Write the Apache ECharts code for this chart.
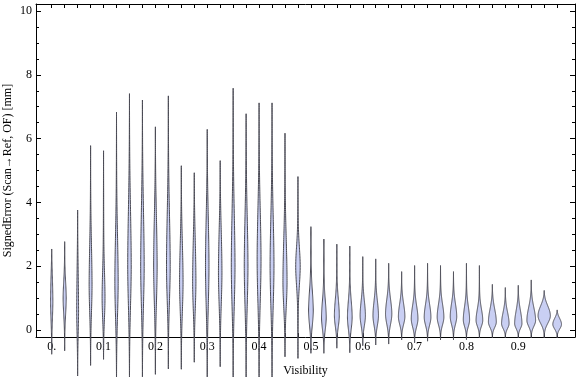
<!DOCTYPE html>
<html>
<head>
<meta charset="utf-8">
<script src="https://cdn.jsdelivr.net/npm/echarts@6/dist/echarts.min.js"></script>
<style>
  html, body { margin: 0; padding: 0; background: #fff; }
  #chart { width: 576px; height: 377px; }
</style>
</head>
<body>
<div id="chart"></div>
<script>
// one violin per visibility bin
const visibility = [0, 0.025, 0.05, 0.075, 0.1, 0.125, 0.15, 0.175, 0.2, 0.225,
  0.25, 0.275, 0.3, 0.325, 0.35, 0.375, 0.4, 0.425, 0.45, 0.475,
  0.5, 0.525, 0.55, 0.575, 0.6, 0.625, 0.65, 0.675, 0.7, 0.725,
  0.75, 0.775, 0.8, 0.825, 0.85, 0.875, 0.9, 0.925, 0.95, 0.975]
// largest / smallest signed error in each bin [mm]
const maxError = [2.54, 2.77, 3.76, 5.78, 5.62, 6.83, 7.41, 7.21, 6.37, 7.34,
  5.15, 4.93, 6.29, 5.31, 7.58, 6.78, 7.12, 7.12, 6.17, 4.81,
  3.24, 2.85, 2.69, 2.63, 2.30, 2.23, 2.09, 1.83, 2.02, 2.09,
  2.02, 1.83, 2.09, 2.02, 1.43, 1.33, 1.40, 1.57, 1.24, 0.63]
const minError = [-0.76, -0.65, -1.44, -1.11, -0.92, -1.65, -1.65, -1.6, -1.39, -1.22,
  -1.23, -1.01, -1.65, -1.15, -1.65, -1.65, -1.65, -1.65, -0.84, -0.89,
  -0.73, -0.73, -0.57, -0.71, -0.49, -0.47, -0.44, -0.31, -0.40, -0.35,
  -0.31, -0.31, -0.30, -0.25, -0.25, -0.25, -0.25, -0.25, -0.25, -0.25]
// where the density peaks [mm]
const peakError = [0.9, 1.0, 0.6, 1.4, 1.0, 1.5, 2.0, 2.0, 2.0, 2.0,
  1.5, 1.5, 2.0, 1.8, 2.0, 2.0, 2.2, 2.0, 1.5, 2.0,
  0.6, 0.4, 0.45, 0.4, 0.45, 0.45, 0.5, 0.42, 0.35, 0.4,
  0.4, 0.42, 0.32, 0.3, 0.25, 0.2, 0.2, 0.3, 0.45, 0.18]
// peak density (relative)
const peakDensity = [0.8, 1.2, 0.6, 1.1, 1.1, 1.3, 1.4, 1.4, 1.4, 1.5,
  1.4, 1.3, 1.4, 1.4, 1.5, 1.5, 1.6, 1.6, 1.7, 1.9,
  2.0, 2.0, 2.1, 2.0, 2.3, 2.4, 2.8, 2.9, 3.0, 3.0,
  3.0, 2.9, 2.8, 3.0, 3.6, 3.4, 3.3, 4.0, 5.8, 4.0]
// spread of the main body [mm]
const spread = [0.8, 0.5, 1.2, 1.2, 0.8, 1.4, 1.7, 1.7, 1.5, 1.6,
  1.2, 1.3, 1.5, 1.3, 1.6, 1.5, 1.5, 1.5, 1.3, 0.6,
  0.6, 0.5, 0.5, 0.5, 0.45, 0.45, 0.45, 0.4, 0.4, 0.4,
  0.4, 0.4, 0.4, 0.35, 0.4, 0.35, 0.4, 0.4, 0.3, 0.18]

const xTicks = [0, 0.1, 0.2, 0.3, 0.4, 0.5, 0.6, 0.7, 0.8, 0.9]
const yTicks = [0, 2, 4, 6, 8, 10]
const yMinor = [0, 0.5, 1, 1.5, 2, 2.5, 3, 3.5, 4, 4.5, 5, 5.5, 6, 6.5, 7, 7.5, 8, 8.5, 9, 9.5, 10]

const DENSITY_UNIT = 1 / 518  // visibility units per density unit
const font = "'Liberation Serif', 'Times New Roman', serif"

const myChart = echarts.init(document.getElementById('chart'))

function halfWidth (i, y) {
  let m = peakError[i]
  let end = y >= m ? maxError[i] : minError[i]
  let s = y >= m ? spread[i] : Math.min(spread[i], (m - minError[i]) / 3)
  let u = Math.abs(y - m) / Math.abs(end - m)
  let g = Math.exp(-0.5 * Math.pow((y - m) / s, 2))
  return peakDensity[i] * g * (1 - Math.pow(u, 4)) + 0.35 * (1 - u)
}

function renderViolin (params, api) {
  let i = api.value(1)
  let x = api.value(0)
  let lo = minError[i]
  let hi = maxError[i]
  let n = 120
  let right = []
  let left = []
  for (let k = 0; k <= n; k++) {
    let y = lo + (hi - lo) * k / n
    let w = halfWidth(i, y) * DENSITY_UNIT
    right.push(api.coord([x + w, y]))
    left.unshift(api.coord([x - w, y]))
  }
  return {
    type: 'polygon',
    shape: { points: right.concat(left) },
    style: {
      fill: '#c9cff3',
      stroke: '#4a4a54',
      lineWidth: 1
    }
  }
}

const xRange = { min: -0.0303, max: 1.0094 }
const yRange = { min: -0.219, max: 10.22 }

const tickStep = visibility.slice()

function frameAxis (extra) {
  return Object.assign({
    type: 'value',
    offset: 0,
    axisLine: { show: true, onZero: false, lineStyle: { color: '#000', width: 1 } },
    axisLabel: { show: false },
    splitLine: { show: false }
  }, extra)
}

const plotBox = { left: 36, right: 1, top: 4, bottom: 40, containLabel: false, outerBoundsMode: 'none' }

let option = {
  animation: false,
  backgroundColor: '#fff',
  // second grid only carries the minor y ticks
  grid: [Object.assign({}, plotBox), Object.assign({}, plotBox)],
  xAxis: [
    frameAxis({
      gridIndex: 0,
      position: 'bottom',
      min: xRange.min,
      max: xRange.max,
      name: 'Visibility',
      nameLocation: 'middle',
      nameGap: 28,
      nameMoveOverlap: false,
      nameTextStyle: { fontFamily: font, fontSize: 12, color: '#000' },
      axisTick: { show: true, inside: true, length: 4, customValues: tickStep, lineStyle: { color: '#000' } },
      axisLabel: {
        show: true,
        customValues: xTicks,
        margin: 4,
        fontFamily: font,
        fontSize: 12,
        color: '#000',
        formatter: v => (v === 0 ? '0.' : String(Math.round(v * 10) / 10))
      }
    }),
    frameAxis({
      gridIndex: 0,
      position: 'top',
      min: xRange.min,
      max: xRange.max,
      axisTick: { show: true, inside: true, length: 4, customValues: tickStep, lineStyle: { color: '#000' } }
    }),
    frameAxis({
      gridIndex: 1,
      min: xRange.min,
      max: xRange.max,
      show: false
    })
  ],
  yAxis: [
    frameAxis({
      gridIndex: 0,
      position: 'left',
      min: yRange.min,
      max: yRange.max,
      name: 'SignedError (Scan\u2192Ref, OF) [mm]',
      nameLocation: 'middle',
      nameRotate: 90,
      nameGap: 22,
      nameMoveOverlap: false,
      nameTextStyle: { fontFamily: font, fontSize: 12, color: '#000' },
      axisTick: { show: true, inside: true, length: 5, customValues: yTicks, lineStyle: { color: '#000' } },
      axisLabel: { show: true, customValues: yTicks, margin: 4, fontFamily: font, fontSize: 12, color: '#000' }
    }),
    frameAxis({
      gridIndex: 0,
      position: 'right',
      min: yRange.min,
      max: yRange.max,
      axisTick: { show: true, inside: true, length: 5, customValues: yTicks, lineStyle: { color: '#000' } }
    }),
    frameAxis({
      gridIndex: 1,
      position: 'left',
      min: yRange.min,
      max: yRange.max,
      axisLine: { show: false, onZero: false },
      axisTick: { show: true, inside: true, length: 3, customValues: yMinor, lineStyle: { color: '#000' } }
    }),
    frameAxis({
      gridIndex: 1,
      position: 'right',
      min: yRange.min,
      max: yRange.max,
      axisLine: { show: false, onZero: false },
      axisTick: { show: true, inside: true, length: 3, customValues: yMinor, lineStyle: { color: '#000' } }
    })
  ],
  series: [
    {
      type: 'custom',
      xAxisIndex: 0,
      yAxisIndex: 0,
      clip: false,
      renderItem: renderViolin,
      encode: { x: 0, y: -1 },
      data: visibility.map((v, i) => [v, i])
    }
  ]
}
myChart.setOption(option, true)
</script>
</body>
</html>
